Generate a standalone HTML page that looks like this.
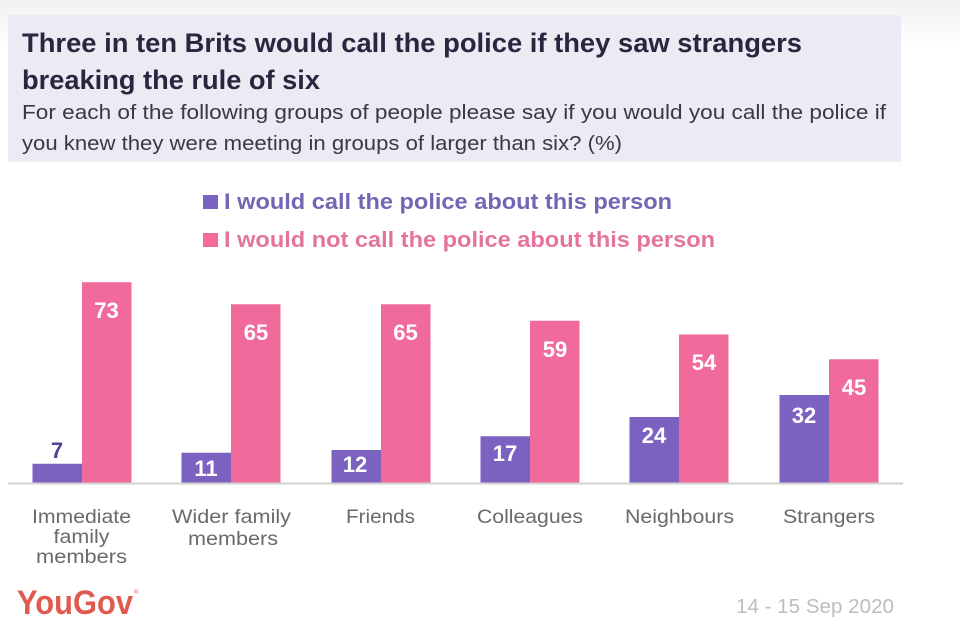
<!DOCTYPE html>
<html>
<head>
<meta charset="utf-8">
<style>
  html, body { margin: 0; padding: 0; background: #ffffff; }
  body { width: 960px; height: 644px; overflow: hidden; }
  svg { display: block; }
</style>
</head>
<body>
<svg width="960" height="644" viewBox="0 0 960 644" xmlns="http://www.w3.org/2000/svg">
  <defs>
    <linearGradient id="bg" x1="0" y1="0" x2="0" y2="1">
      <stop offset="0" stop-color="#f1f1f1"/>
      <stop offset="1" stop-color="#ffffff"/>
    </linearGradient>
  </defs>
  <rect x="0" y="0" width="960" height="644" fill="#ffffff"/>
  <rect x="0" y="0" width="960" height="45" fill="url(#bg)"/>

  <!-- Title box -->
  <rect x="8" y="15" width="893" height="147" fill="#edeaf3"/>
  <g font-family="Liberation Sans, sans-serif">
    <text x="22" y="52" font-size="27" font-weight="bold" fill="#2a2640" textLength="780" lengthAdjust="spacingAndGlyphs">Three in ten Brits would call the police if they saw strangers</text>
    <text x="22" y="89" font-size="27" font-weight="bold" fill="#2a2640" textLength="298" lengthAdjust="spacingAndGlyphs">breaking the rule of six</text>
    <text x="22" y="119" font-size="20" fill="#3a3840" textLength="864" lengthAdjust="spacingAndGlyphs">For each of the following groups of people please say if you would you call the police if</text>
    <text x="22" y="150" font-size="20" fill="#3a3840" textLength="600" lengthAdjust="spacingAndGlyphs">you knew they were meeting in groups of larger than six? (%)</text>
  </g>

  <!-- Legend -->
  <rect x="203" y="195" width="15" height="14" fill="#7a63c0"/>
  <rect x="203" y="233" width="15" height="14" fill="#f06b9c"/>
  <g font-family="Liberation Sans, sans-serif" font-weight="bold" font-size="22">
    <text x="224" y="209" fill="#7566b3" textLength="448" lengthAdjust="spacingAndGlyphs">I would call the police about this person</text>
    <text x="224" y="247" fill="#e2749e" textLength="491" lengthAdjust="spacingAndGlyphs">I would not call the police about this person</text>
  </g>

  <!-- Bars -->
  <g>
    <!-- Immediate family -->
    <rect x="32.5" y="463.75" width="49.5" height="19.25" fill="#7b62c0"/>
    <rect x="82" y="282.25" width="49.5" height="200.75" fill="#f06b9c"/>
    <!-- Wider family -->
    <rect x="181.5" y="452.75" width="49.5" height="30.25" fill="#7b62c0"/>
    <rect x="231" y="304.25" width="49.5" height="178.75" fill="#f06b9c"/>
    <!-- Friends -->
    <rect x="331.5" y="450" width="49.5" height="33" fill="#7b62c0"/>
    <rect x="381" y="304.25" width="49.5" height="178.75" fill="#f06b9c"/>
    <!-- Colleagues -->
    <rect x="480.5" y="436.25" width="49.5" height="46.75" fill="#7b62c0"/>
    <rect x="530" y="320.75" width="49.5" height="162.25" fill="#f06b9c"/>
    <!-- Neighbours -->
    <rect x="629.5" y="417" width="49.5" height="66" fill="#7b62c0"/>
    <rect x="679" y="334.5" width="49.5" height="148.5" fill="#f06b9c"/>
    <!-- Strangers -->
    <rect x="779.5" y="395" width="49.5" height="88" fill="#7b62c0"/>
    <rect x="829" y="359.25" width="49.5" height="123.75" fill="#f06b9c"/>
  </g>

  <!-- Axis line -->
  <rect x="8" y="482.5" width="895" height="2" fill="#d2d2d2"/>

  <!-- Value labels -->
  <g font-family="Liberation Sans, sans-serif" font-weight="bold" font-size="22" text-anchor="middle" fill="#ffffff">
    <text x="57" y="458" fill="#4f4590">7</text>
    <text x="106.5" y="318">73</text>
    <text x="206" y="476">11</text>
    <text x="256" y="340">65</text>
    <text x="355" y="472">12</text>
    <text x="405.5" y="340">65</text>
    <text x="505" y="461">17</text>
    <text x="555" y="357">59</text>
    <text x="654" y="443">24</text>
    <text x="704" y="370">54</text>
    <text x="804" y="423">32</text>
    <text x="854" y="395">45</text>
  </g>

  <!-- Category labels -->
  <g font-family="Liberation Sans, sans-serif" font-size="19" fill="#6a6a6a" text-anchor="middle">
    <text x="81.5" y="523" textLength="99" lengthAdjust="spacingAndGlyphs">Immediate</text>
    <text x="81.5" y="543" textLength="56" lengthAdjust="spacingAndGlyphs">family</text>
    <text x="81.5" y="563" textLength="91" lengthAdjust="spacingAndGlyphs">members</text>
    <text x="231.5" y="523" textLength="119" lengthAdjust="spacingAndGlyphs">Wider family</text>
    <text x="233" y="545" textLength="90" lengthAdjust="spacingAndGlyphs">members</text>
    <text x="380.5" y="523" textLength="69" lengthAdjust="spacingAndGlyphs">Friends</text>
    <text x="530" y="523" textLength="106" lengthAdjust="spacingAndGlyphs">Colleagues</text>
    <text x="679.5" y="523" textLength="109" lengthAdjust="spacingAndGlyphs">Neighbours</text>
    <text x="829" y="523" textLength="92" lengthAdjust="spacingAndGlyphs">Strangers</text>
  </g>

  <!-- Footer -->
  <text x="17" y="614" font-family="Liberation Sans, sans-serif" font-weight="bold" font-size="34" fill="#e05a50" textLength="116" lengthAdjust="spacingAndGlyphs">YouGov</text>
  <text x="134" y="594" font-family="Liberation Sans, sans-serif" font-size="6" fill="#e05a50">®</text>
  <text x="736" y="613" font-family="Liberation Sans, sans-serif" font-size="20" fill="#bdbdbd" textLength="158" lengthAdjust="spacingAndGlyphs">14 - 15 Sep 2020</text>
</svg>
</body>
</html>
